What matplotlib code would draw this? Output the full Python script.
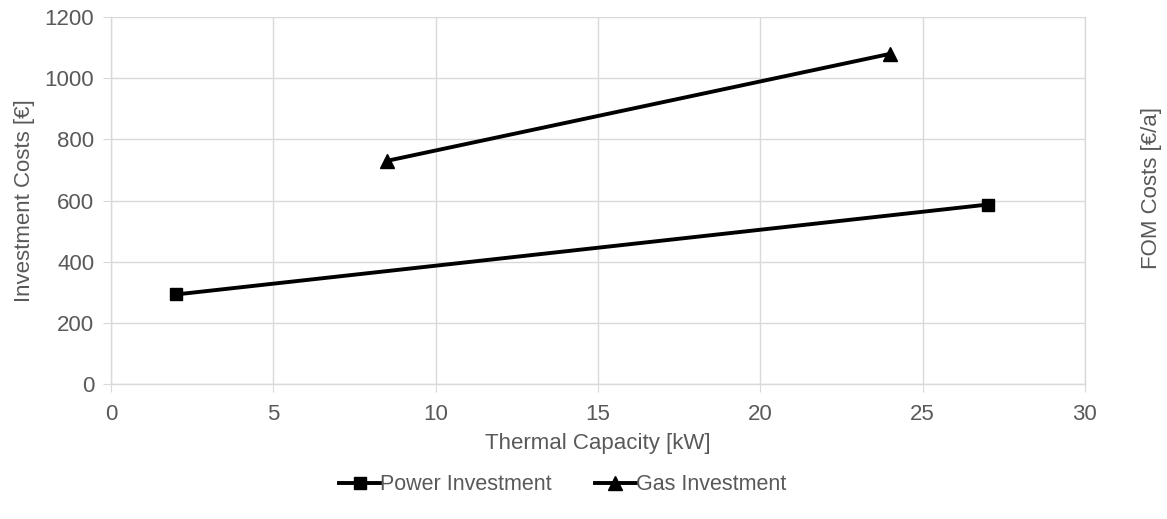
import matplotlib
matplotlib.use("Agg")
import matplotlib.pyplot as plt

# data
power_x = [2, 27]
power_y = [293, 587]
gas_x = [8.5, 24]
gas_y = [730, 1080]
x_ticks = [0, 5, 10, 15, 20, 25, 30]
y_ticks = [0, 200, 400, 600, 800, 1000, 1200]

plt.rcParams['font.family'] = ['Liberation Sans', 'DejaVu Sans']
txt = '#595959'
grid = '#d9d9d9'
fs = 16

fig = plt.figure(figsize=(11.67, 5.19), dpi=100)
ax = fig.add_axes([0.0951, 0.260, 0.8346, 0.707])

ax.plot(power_x, power_y, color='black', lw=2.8, marker='s', ms=9, label='Power Investment', zorder=3)
ax.plot(gas_x, gas_y, color='black', lw=2.8, marker='^', ms=10, label='Gas Investment', zorder=3)

ax.set_xlim(0, 30)
ax.set_ylim(0, 1200)
ax.set_xticks(x_ticks)
ax.set_yticks(y_ticks)
ax.grid(True, color=grid, lw=1)
ax.set_axisbelow(True)
ax.spines['top'].set_visible(False)
for s in ['left', 'bottom', 'right']:
    ax.spines[s].set_color(grid)
    ax.spines[s].set_linewidth(1)
ax.tick_params(axis='both', colors=grid, labelcolor=txt, labelsize=fs, length=6)
ax.tick_params(axis='x', pad=8)
ax.tick_params(axis='y', pad=6)

ax.set_xlabel('Thermal Capacity [kW]', color=txt, fontsize=fs, labelpad=6)
ax.set_ylabel('Investment Costs [€]', color=txt, fontsize=fs, labelpad=7)
fig.text(0.987, 0.638, 'FOM Costs [€/a]', rotation=90, color=txt, fontsize=fs,
         ha='center', va='center')

leg = fig.legend(loc='center', bbox_to_anchor=(0.482, 0.066), ncol=2, frameon=False,
                 fontsize=15.5, handlelength=1.9, handletextpad=0.0, columnspacing=2.0)
for t in leg.get_texts():
    t.set_color(txt)

fig.savefig('out.png', dpi=100)
